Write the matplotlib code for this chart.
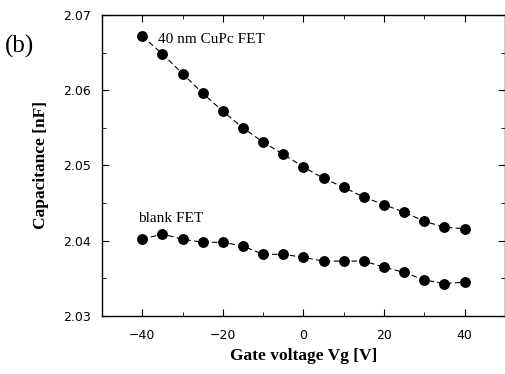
import numpy as np
import matplotlib
matplotlib.use("Agg")
import matplotlib.pyplot as plt
from matplotlib.ticker import MultipleLocator

# gate voltage steps
vg = [-40, -35, -30, -25, -20, -15, -10, -5, 0, 5, 10, 15, 20, 25, 30, 35, 40]

# capacitance [nF]
cap_cupc = [2.0672, 2.0648, 2.0622, 2.0596, 2.0572, 2.0550, 2.0531, 2.0515, 2.0498,
            2.0483, 2.0471, 2.0458, 2.0448, 2.0438, 2.0426, 2.0418, 2.0416]
cap_blank = [2.0402, 2.0409, 2.0402, 2.0398, 2.0398, 2.0393, 2.0382, 2.0382, 2.0378,
             2.0373, 2.0373, 2.0373, 2.0365, 2.0358, 2.0348, 2.0343, 2.0345]

serif = "Liberation Serif"

fig = plt.figure(figsize=(5.06, 3.74), dpi=100)
ax = fig.add_axes([0.2016, 0.155, 0.796, 0.805])

for cap in (cap_cupc, cap_blank):
    ax.plot(vg, cap, color="black", linestyle=(0, (5, 3)), linewidth=0.8,
            marker="o", markersize=6.8, markerfacecolor="black", markeredgecolor="black")

ax.set_xlim(-50, 50)
ax.set_ylim(2.03, 2.07)
ax.xaxis.set_major_locator(MultipleLocator(20))
ax.xaxis.set_minor_locator(MultipleLocator(10))
ax.yaxis.set_major_locator(MultipleLocator(0.01))
ax.yaxis.set_minor_locator(MultipleLocator(0.005))
ax.tick_params(which="both", direction="in", top=True, right=True, labelsize=9)
ax.tick_params(which="major", length=5)
ax.tick_params(which="minor", length=3)
ax.tick_params(axis="x", pad=9)
ax.tick_params(axis="y", pad=8)
ax.yaxis.set_major_formatter(matplotlib.ticker.FormatStrFormatter("%.2f"))
for lab in ax.get_xticklabels() + ax.get_yticklabels():
    lab.set_family("DejaVu Sans")
for s in ax.spines.values():
    s.set_linewidth(1.0)

ax.set_xlabel("Gate voltage Vg [V]", family=serif, fontweight="bold", fontsize=12.5, labelpad=5)
ax.set_ylabel("Capacitance [nF]", family=serif, fontweight="bold", fontsize=12.5, labelpad=10)

ax.text(-36, 2.0668, "40 nm CuPc FET", family=serif, fontsize=11, va="center")
ax.text(-41, 2.0429, "blank FET", family=serif, fontsize=11, va="center")
fig.text(0.01, 0.875, "(b)", family=serif, fontsize=18, va="center")

fig.savefig("out.png", dpi=100)
